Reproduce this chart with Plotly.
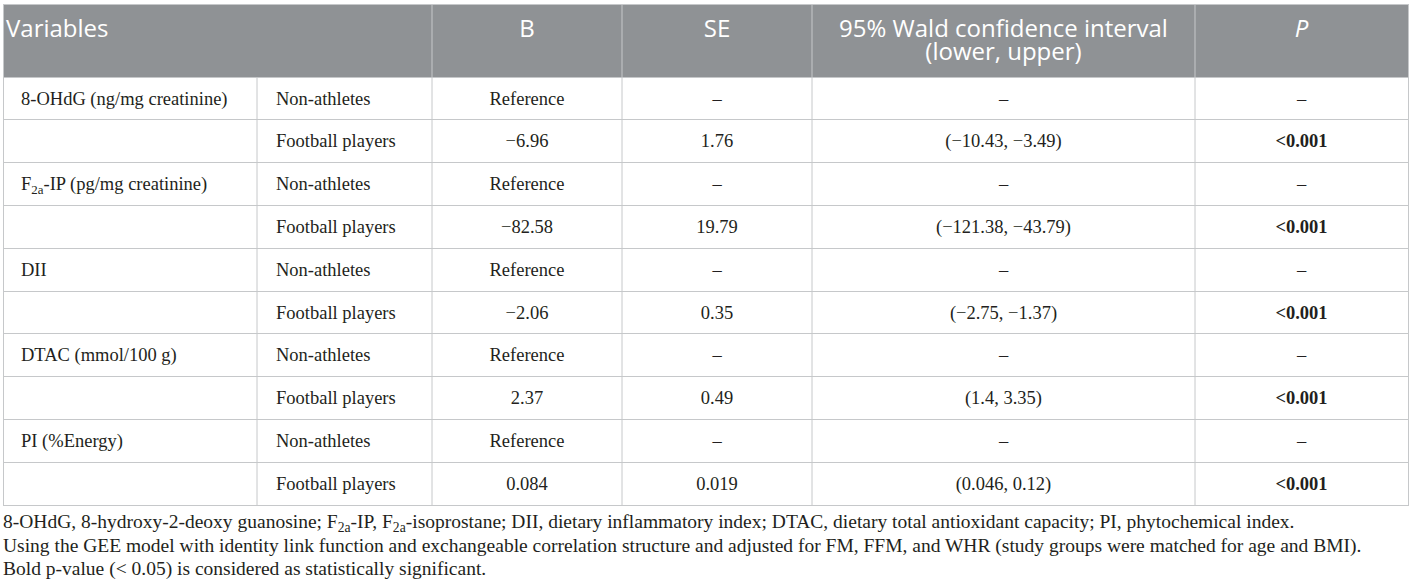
import plotly.graph_objects as go

# data
variables = ["8-OHdG (ng/mg creatinine)", "F<sub>2a</sub>-IP (pg/mg creatinine)", "DII",
             "DTAC (mmol/100 g)", "PI (%Energy)"]
groups = ["Non-athletes", "Football players"]
b_values = ["\u22126.96", "\u221282.58", "\u22122.06", "2.37", "0.084"]
se_values = ["1.76", "19.79", "0.35", "0.49", "0.019"]
ci_lower = ["\u221210.43", "\u2212121.38", "\u22122.75", "1.4", "0.046"]
ci_upper = ["\u22123.49", "\u221243.79", "\u22121.37", "3.35", "0.12"]
p_values = ["&lt;0.001"] * 5
headers = ["Variables", "", "B", "SE", "95% Wald confidence interval", "<i>P</i>"]
header_line2 = "(lower, upper)"
footnotes = [
    "8-OHdG, 8-hydroxy-2-deoxy guanosine; F<sub>2a</sub>-IP, F<sub>2a</sub>-isoprostane; DII, dietary inflammatory index; "
    "DTAC, dietary total antioxidant capacity; PI, phytochemical index.",
    "Using the GEE model with identity link function and exchangeable correlation structure and adjusted for FM, FFM, "
    "and WHR (study groups were matched for age and BMI).",
    "Bold p-value (&lt; 0.05) is considered as statistically significant.",
]

REF = "Reference"
DASH = "\u2013"

# table geometry (pixel units of the plot area)
col_widths = [253, 175, 190, 190, 383, 213]
HEAD_H = 72
ROW_H = 42.8
N_ROWS = len(variables) * len(groups)
FOOT_Y0 = 518   # first footnote line, px below table top
FOOT_STEP = 23

col_edges = [0]
for w in col_widths:
    col_edges.append(col_edges[-1] + w)
row_edges = [0, HEAD_H] + [HEAD_H + ROW_H * (i + 1) for i in range(N_ROWS)]
table_w = col_edges[-1]
table_h = row_edges[-1]
row_mid = [(row_edges[i + 1] + row_edges[i + 2]) / 2 + 1.5 for i in range(N_ROWS)]
col_mid = [(col_edges[i] + col_edges[i + 1]) / 2 for i in range(len(col_widths))]

HEAD_FILL = "#8f9295"
LINE = "#c6c8ca"
TEXT = "#231f20"
SERIF = "Liberation Serif"
BODY_SIZE = 18.5
FOOT_SIZE = 19.5

# body columns
col_var, col_grp, col_b, col_se, col_ci, col_p = [], [], [], [], [], []
for i, v in enumerate(variables):
    col_var += [v, ""]
    col_grp += groups
    col_b += [REF, b_values[i]]
    col_se += [DASH, se_values[i]]
    col_ci += [DASH, "({}, {})".format(ci_lower[i], ci_upper[i])]
    col_p += [DASH, "<b>{}</b>".format(p_values[i])]

body_cols = [col_var, col_grp, col_b, col_se, col_ci, col_p]
pads = [17, 19, None, None, None, None]

fig = go.Figure()

body_font = dict(family=SERIF, size=BODY_SIZE, color=TEXT)
for k, values in enumerate(body_cols):
    if pads[k] is not None:
        xs = [col_edges[k] + pads[k]] * N_ROWS
        pos = "middle right"
    else:
        xs = [col_mid[k]] * N_ROWS
        pos = "middle center"
    fig.add_trace(go.Scatter(x=xs, y=row_mid, mode="text", text=values, textposition=pos,
                             textfont=body_font, hoverinfo="skip", showlegend=False, cliponaxis=False))

# header
head_font = dict(family="Open Sans", size=24, color="white")
head_x = [2] + col_mid[1:]
head_pos = ["middle right"] + ["middle center"] * (len(headers) - 1)
fig.add_trace(go.Scatter(x=head_x, y=[26] * len(headers), mode="text", text=headers, textposition=head_pos,
                         textfont=head_font, hoverinfo="skip", showlegend=False, cliponaxis=False))
fig.add_trace(go.Scatter(x=[col_mid[4]], y=[48.8], mode="text", text=[header_line2],
                         textposition="middle center", textfont=head_font,
                         hoverinfo="skip", showlegend=False, cliponaxis=False))

shapes = [dict(type="rect", xref="x", yref="y", x0=0, x1=table_w, y0=0, y1=HEAD_H,
               fillcolor=HEAD_FILL, line=dict(width=0), layer="below")]
for k, e in enumerate(col_edges[1:-1], start=1):
    # first two header cells are merged
    y0 = HEAD_H if k == 1 else 0
    shapes.append(dict(type="line", xref="x", yref="y", x0=e, x1=e, y0=y0, y1=table_h,
                       line=dict(color=LINE, width=1), layer="between"))

# footnotes sit below the plot area, so place them in paper units
for k, txt in enumerate(footnotes):
    fig.add_annotation(
        x=-3.5 / table_w, y=1 - (FOOT_Y0 + FOOT_STEP * k) / table_h, xref="paper", yref="paper",
        xanchor="left", yanchor="middle", showarrow=False, align="left",
        text=txt, font=dict(family=SERIF, size=FOOT_SIZE, color=TEXT),
    )

fig.update_layout(
    width=1414, height=588,
    margin=dict(l=4, r=6, t=5, b=83),
    paper_bgcolor="white",
    plot_bgcolor="white",
    shapes=shapes,
    xaxis=dict(range=[0, table_w], showgrid=False, zeroline=False, showticklabels=False, ticks="",
               showline=True, mirror=True, linecolor=LINE, linewidth=1, fixedrange=True),
    yaxis=dict(range=[table_h, 0], tickvals=row_edges[1:-1], showgrid=True, gridcolor=LINE, gridwidth=1,
               zeroline=False, showticklabels=False, ticks="",
               showline=True, mirror=True, linecolor=LINE, linewidth=1, fixedrange=True),
)

fig.write_html("out.html", config=dict(displayModeBar=False),
               post_script="document.body.style.margin = '0px';")
